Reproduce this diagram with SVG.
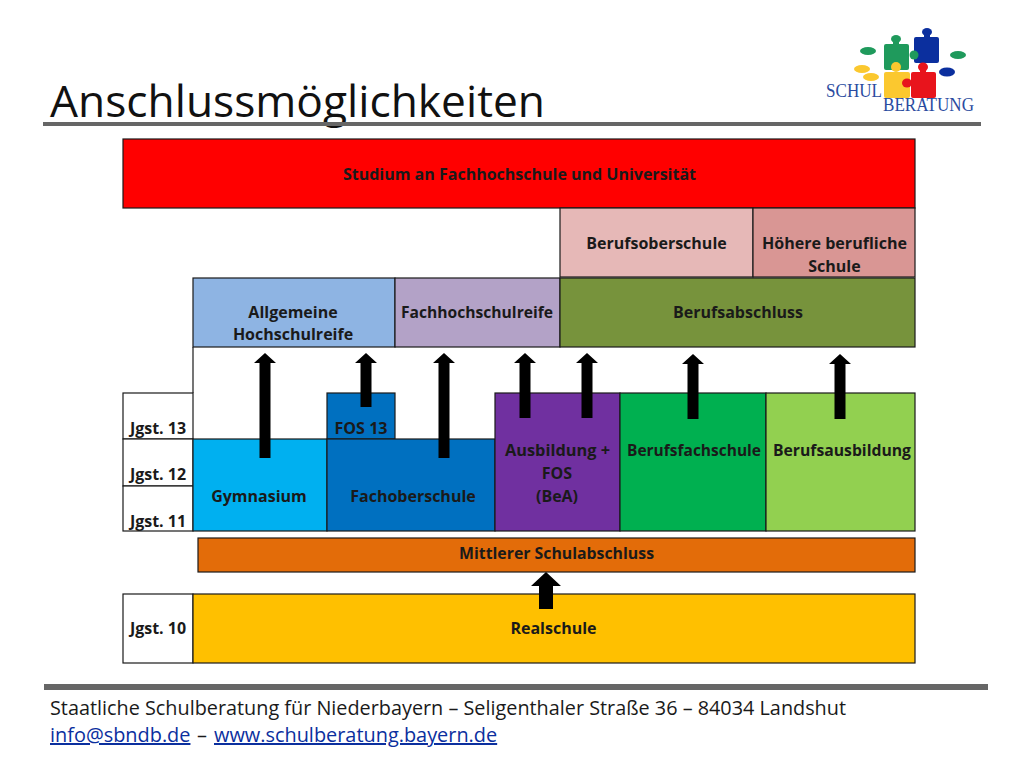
<svg xmlns="http://www.w3.org/2000/svg" width="1024" height="768" viewBox="0 0 1024 768">
<style>
.b{stroke:#1a1a1a;stroke-width:1.2}
.t{font-family:"Open Sans","Liberation Sans",sans-serif;font-weight:700;font-size:16px;text-anchor:middle;fill:#1a1a1a}
.f{font-family:"Open Sans","Liberation Sans",sans-serif;font-size:19.9px;fill:#1a1a1a}
.l{fill:#0b2f9e;text-decoration:underline}
.g{font-family:"Liberation Serif",serif;fill:#2a4ba0;font-size:19px}
</style>
<rect width="1024" height="768" fill="#fff"/>
<g id="header">
<text x="50" y="117" style="font-family:'Open Sans','Liberation Sans',sans-serif;font-size:44px;fill:#111" textLength="495" lengthAdjust="spacingAndGlyphs">Anschlussmöglichkeiten</text>
<rect x="43" y="122" width="938" height="4" fill="#666"/>
</g>
<g id="logo">
<ellipse cx="868" cy="51" rx="8" ry="4" fill="#1f9a5c"/>
<ellipse cx="958" cy="55" rx="8" ry="4" fill="#1f9a5c"/>
<ellipse cx="947" cy="72" rx="8" ry="4.500" fill="#0b2f9e"/>
<ellipse cx="862" cy="69" rx="8" ry="4" fill="#fbc82f"/>
<ellipse cx="871" cy="77" rx="8" ry="4" fill="#fbc82f"/>
<rect x="914" y="37" width="25" height="26" rx="2" fill="#0b2f9e"/><ellipse cx="927" cy="32" rx="5" ry="4" fill="#0b2f9e"/><rect x="924" y="33" width="6" height="6" fill="#0b2f9e"/>
<rect x="884" y="44" width="25" height="26" rx="2" fill="#1f9a5c"/><ellipse cx="896" cy="39" rx="5" ry="4" fill="#1f9a5c"/><rect x="893" y="40" width="6" height="6" fill="#1f9a5c"/><ellipse cx="914" cy="55" rx="4.500" ry="4.500" fill="#1f9a5c"/>
<rect x="884" y="72" width="26" height="26" rx="2" fill="#fbc82f"/><circle cx="896" cy="67" r="5" fill="#fbc82f"/>
<rect x="911" y="72" width="25" height="26" rx="2" fill="#e8141c"/><ellipse cx="923" cy="67" rx="5" ry="4.500" fill="#e8141c"/><rect x="920" y="68" width="6" height="6" fill="#e8141c"/><ellipse cx="907" cy="83" rx="5" ry="4.500" fill="#e8141c"/>
<text class="g" x="826" y="97" textLength="56" lengthAdjust="spacingAndGlyphs">SCHUL</text>
<text class="g" x="883" y="111" textLength="91" lengthAdjust="spacingAndGlyphs">BERATUNG</text>
</g>
<g id="studium"><rect class="b" x="123" y="139" width="792" height="69" fill="#ff0000"/><text class="t" x="519.500" y="179.500">Studium an Fachhochschule und Universität</text></g>
<g id="berufsoberschule"><rect class="b" x="560" y="208" width="193" height="69" fill="#e6b8b7"/><text class="t" x="656.500" y="248.500">Berufsoberschule</text></g>
<g id="hoehere"><rect class="b" x="753" y="208" width="162" height="69" fill="#d99694"/><text class="t" x="834.500" y="248.500" textLength="145" lengthAdjust="spacingAndGlyphs">Höhere berufliche</text><text class="t" x="834.500" y="271.500">Schule</text></g>
<g id="allgemeine"><rect class="b" x="193" y="278" width="202" height="69" fill="#8eb4e3"/><text class="t" x="293" y="318">Allgemeine</text><text class="t" x="293" y="340">Hochschulreife</text></g>
<g id="fachhochschulreife"><rect class="b" x="395" y="278" width="165" height="69" fill="#b3a2c7"/><text class="t" x="477" y="317.500" textLength="152" lengthAdjust="spacingAndGlyphs">Fachhochschulreife</text></g>
<g id="berufsabschluss"><rect class="b" x="560" y="278" width="355" height="69" fill="#77933c"/><text class="t" x="738" y="317.500">Berufsabschluss</text></g>
<g id="jgst13"><path class="b" d="M193 347V393" fill="none"/><rect class="b" x="123" y="393" width="70" height="46" fill="#fff"/><text class="t" x="158" y="433.500">Jgst. 13</text></g>
<g id="jgst12"><rect class="b" x="123" y="439" width="70" height="47" fill="#fff"/><text class="t" x="158" y="479.500">Jgst. 12</text></g>
<g id="jgst11"><rect class="b" x="123" y="486" width="70" height="45" fill="#fff"/><text class="t" x="158" y="526.500">Jgst. 11</text></g>
<g id="gymnasium"><rect class="b" x="193" y="439" width="134" height="92" fill="#00b0f0"/><text class="t" x="259" y="501.500">Gymnasium</text></g>
<g id="fos13"><rect class="b" x="327" y="393" width="68" height="46" fill="#0070c0"/><text class="t" x="361" y="433.500" textLength="53" lengthAdjust="spacingAndGlyphs">FOS 13</text></g>
<g id="fachoberschule"><rect class="b" x="327" y="439" width="168" height="92" fill="#0070c0"/><text class="t" x="413" y="501.500">Fachoberschule</text></g>
<g id="ausbildung"><rect class="b" x="495" y="393" width="125" height="138" fill="#7030a0"/><text class="t" x="557.500" y="455.500" textLength="105" lengthAdjust="spacingAndGlyphs">Ausbildung +</text><text class="t" x="557" y="478.500">FOS</text><text class="t" x="557" y="501.500">(BeA)</text></g>
<g id="berufsfachschule"><rect class="b" x="620" y="393" width="146" height="138" fill="#00b050"/><text class="t" x="694" y="455.500" textLength="134" lengthAdjust="spacingAndGlyphs">Berufsfachschule</text></g>
<g id="berufsausbildung"><rect class="b" x="766" y="393" width="149" height="138" fill="#92d050"/><text class="t" x="842" y="455.500" textLength="138" lengthAdjust="spacingAndGlyphs">Berufsausbildung</text></g>
<g id="mittlerer"><rect class="b" x="198" y="538" width="717" height="34" fill="#e36c09"/><text class="t" x="556.500" y="558.500" textLength="195" lengthAdjust="spacingAndGlyphs">Mittlerer Schulabschluss</text></g>
<g id="jgst10"><rect class="b" x="123" y="594" width="70" height="69" fill="#fff"/><text class="t" x="158" y="633.500">Jgst. 10</text></g>
<g id="realschule"><rect class="b" x="193" y="594" width="722" height="69" fill="#ffc000"/><text class="t" x="553.500" y="633.500">Realschule</text></g>
<g id="connectors">
<path fill="#000" d="M259.500 458V363H254L265 353L276 363H270.500V458Z"/>
<path fill="#000" d="M360.500 407V363H355L366 353L377 363H371.500V407Z"/>
<path fill="#000" d="M438.500 458V363H433L444 353L455 363H449.500V458Z"/>
<path fill="#000" d="M519.500 418V363H514L525 353L536 363H530.500V418Z"/>
<path fill="#000" d="M581.500 418V363H576L587 353L598 363H592.500V418Z"/>
<path fill="#000" d="M687.500 419V364H682L693 354L704 364H698.500V419Z"/>
<path fill="#000" d="M834.500 419V364H829L840 354L851 364H845.500V419Z"/>
<path fill="#000" d="M539 609V586H531L546 572L561 586H553V609Z"/>
</g>
<g id="footer">
<rect x="44" y="684" width="944" height="6" fill="#666"/>
<text class="f" x="50" y="715" textLength="796" lengthAdjust="spacingAndGlyphs">Staatliche Schulberatung für Niederbayern – Seligenthaler Straße 36 – 84034 Landshut</text>
<text class="f" x="50" y="742"><tspan class="l">info@sbndb.de</tspan></text>
<text class="f" x="197" y="742">–</text>
<text class="f" x="214" y="742"><tspan class="l">www.schulberatung.bayern.de</tspan></text>
</g>
</svg>
